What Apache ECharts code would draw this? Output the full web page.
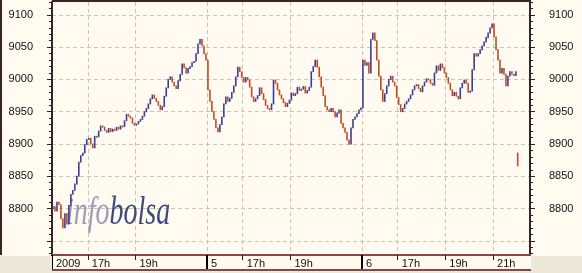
<!DOCTYPE html>
<html><head><meta charset="utf-8">
<script src="https://cdn.jsdelivr.net/npm/echarts@6/dist/echarts.min.js"></script>
<style>html,body{margin:0;padding:0;background:#ECE9D8;overflow:hidden}#c{width:582px;height:273px}</style>
</head><body><div id="c"></div>
<script>
// 5-minute closing prices, three sessions (15:30 - 22:00)
const day1Close = [8803,8796,8810,8806,8784,8770,8792,8776,8805,8822,8828,8838,8850,8872,8882,8886,8899,8907,8909,8900,
  8894,8912,8911,8920,8928,8926,8921,8918,8924,8919,8923,8921,8926,8923,8928,8927,8936,8946,8943,8940,
  8932,8929,8931,8935,8938,8943,8950,8955,8962,8970,8976,8971,8966,8960,8953,8958,8974,8987,9000,9004,
  8996,8990,8986,8998,9008,9024,9018,9010,9017,9020,9026,9028,9040,9055,9062,9052,9040,9030];
const day2Close = [8984,8966,8950,8938,8925,8919,8930,8942,8962,8973,8966,8971,8980,8990,9004,9019,9012,9003,8996,9003,
  8999,8988,8973,8966,8970,8975,8987,8978,8969,8960,8955,8953,8962,8999,8994,8984,8976,8970,8964,8958,
  8963,8968,8979,8975,8978,8988,8983,8985,8989,8979,8983,8988,9012,9020,9030,9019,9004,8988,8975,8958,
  8953,8950,8955,8950,8942,8948,8953,8932,8925,8918,8906,8900,8925,8938,8942,8947,8953,8956];
const day3Close = [9030,9022,9026,9010,9062,9072,9060,9030,9005,8984,8966,8978,8990,9000,9005,8996,8990,8972,8961,8950,
  8955,8962,8966,8970,8976,8984,8990,8992,8986,8981,8990,8996,9001,8999,8994,8991,9010,9021,9014,9024,
  9018,9010,9003,8994,8984,8975,8980,8974,8970,8987,8994,8999,8994,8980,8982,9015,9040,9036,9040,9046,
  9052,9058,9065,9072,9080,9086,9066,9046,9030,9010,9017,9008,8990,9005,9012,9008,9006,9012];
const startPrice = 8800;
const strayBar = [1172, 8886, 8866]; // minute, open, close

const xTickMinutes = [0, 90, 210, 390, 480, 600, 780, 870, 990, 1110];
const xTickLabels = ['2009', '17h', '19h', '5', '17h', '19h', '6', '17h', '19h', '21h'];
const daySeparators = [0, 390, 780];
const yMajorTicks = [8750, 8800, 8850, 8900, 8950, 9000, 9050, 9100];
const yLabelValues = [8800, 8850, 8900, 8950, 9000, 9050, 9100];
const yMinorTicks = [8730,8740,8760,8770,8780,8790,8810,8820,8830,8840,8860,8870,8880,8890,8910,8920,8930,8940,
  8960,8970,8980,8990,9010,9020,9030,9040,9060,9070,9080,9090,9110,9120];

const closes = day1Close.concat(day2Close, day3Close);
const bars = [];
let prev = startPrice;
closes.forEach((c, i) => {
  bars.push([i * 5 + 2.5, prev, c]);
  prev = c;
});
const labelMap = {};
xTickMinutes.forEach((m, i) => labelMap[m] = xTickLabels[i]);

const FONT = 'Liberation Sans';
const Y_MIN = 8728, Y_MAX = 9120, X_MAX = 1203;
const frame = '#3a2424';
const UP = '#3c3e94', DOWN = '#c44a26';

function yAx(pos, ticks, labels, len, line) {
  return {
    type: 'value', position: pos, min: Y_MIN, max: Y_MAX,
    axisLine: {show: line, onZero: false, lineStyle: {color: frame, width: 2}},
    axisTick: {show: true, customValues: ticks, length: len, lineStyle: {color: '#222', width: 1}},
    axisLabel: labels ? {customValues: labels, formatter: v => String(v), margin: 19, fontSize: 11, color: '#111', fontFamily: FONT} : {show: false},
    splitLine: {show: line && pos === 'left', lineStyle: {type: [4, 3], color: '#cbc3b4', width: 1}}
  };
}

function renderBar(params, api) {
  const x = api.value(0), o = api.value(1), c = api.value(2);
  const p1 = api.coord([x, o]), p2 = api.coord([x, c]);
  const top = Math.min(p1[1], p2[1]);
  const h = Math.max(1.2, Math.abs(p2[1] - p1[1]));
  return {
    type: 'rect',
    shape: {x: p1[0] - 0.8, y: top - 0.4, width: 1.6, height: h + 0.8},
    style: {fill: c >= o ? UP : DOWN}
  };
}

const chart = echarts.init(document.getElementById('c'), null, {renderer: 'canvas'});
chart.setOption({
  animation: false,
  backgroundColor: '#FFFBF0',
  grid: {left: 52, right: 52, top: 2, bottom: 18, containLabel: false},
  xAxis: [
    {
      type: 'value', min: 0, max: X_MAX, position: 'bottom',
      axisLine: {onZero: false, lineStyle: {color: '#8c4444', width: 2}},
      axisTick: {customValues: xTickMinutes, length: 5, lineStyle: {color: '#222'}},
      axisLabel: {customValues: xTickMinutes, formatter: v => labelMap[v] || '', align: 'left',
        margin: 3, padding: [0, 0, 0, 4], fontSize: 11, color: '#111', fontFamily: FONT, showMinLabel: true, showMaxLabel: true},
      splitLine: {show: true, lineStyle: {type: [4, 3], color: '#cbc3b4', width: 1}}
    },
    {
      type: 'value', min: 0, max: X_MAX, position: 'bottom',
      axisLine: {show: false, onZero: false},
      axisTick: {customValues: daySeparators, length: 18, lineStyle: {color: '#000', width: 2}},
      axisLabel: {show: false}, splitLine: {show: false}
    }
  ],
  yAxis: [
    yAx('left', yMajorTicks, yLabelValues, 5, true),
    yAx('left', yMinorTicks, null, 3, false),
    yAx('right', yMajorTicks, yLabelValues, 5, true),
    yAx('right', yMinorTicks, null, 3, false)
  ],
  graphic: [
    {type: 'rect', shape: {x: 0, y: 256, width: 52, height: 17}, style: {fill: '#ECE9D8'}, z: 100},
    {type: 'rect', shape: {x: 531, y: 256, width: 51, height: 17}, style: {fill: '#ECE9D8'}, z: 100},
    {type: 'rect', shape: {x: 0, y: 271, width: 582, height: 2}, style: {fill: '#ECE9D8'}, z: 100},
    {type: 'rect', shape: {x: 52, y: 269, width: 479, height: 2}, style: {fill: '#8c4444'}, z: 100},
    {type: 'rect', shape: {x: 52, y: 0, width: 479, height: 2}, style: {fill: frame}, z: 100},
    {type: 'rect', shape: {x: 0, y: 0, width: 2, height: 255}, style: {fill: frame}, z: 100},
    {
      type: 'text', left: 66, top: 193, z: 50, scaleX: 0.7,
      style: {
        text: '{a|info}{b|bolsa}',
        rich: {
          a: {font: 'italic 40px "Liberation Serif"', fill: '#9d9cbc'},
          b: {font: 'italic 40px "Liberation Serif"', fill: '#3e4a7e'}
        }
      }
    }
  ],
  series: [
    {
      type: 'custom', xAxisIndex: 0, yAxisIndex: 0, renderItem: renderBar,
      encode: {x: 0, y: [1, 2]}, data: bars, z: 60
    },
    {
      type: 'custom', xAxisIndex: 0, yAxisIndex: 0, renderItem: renderBar,
      encode: {x: 0, y: [1, 2]}, data: [strayBar], z: 60
    }
  ]
});
</script></body></html>
